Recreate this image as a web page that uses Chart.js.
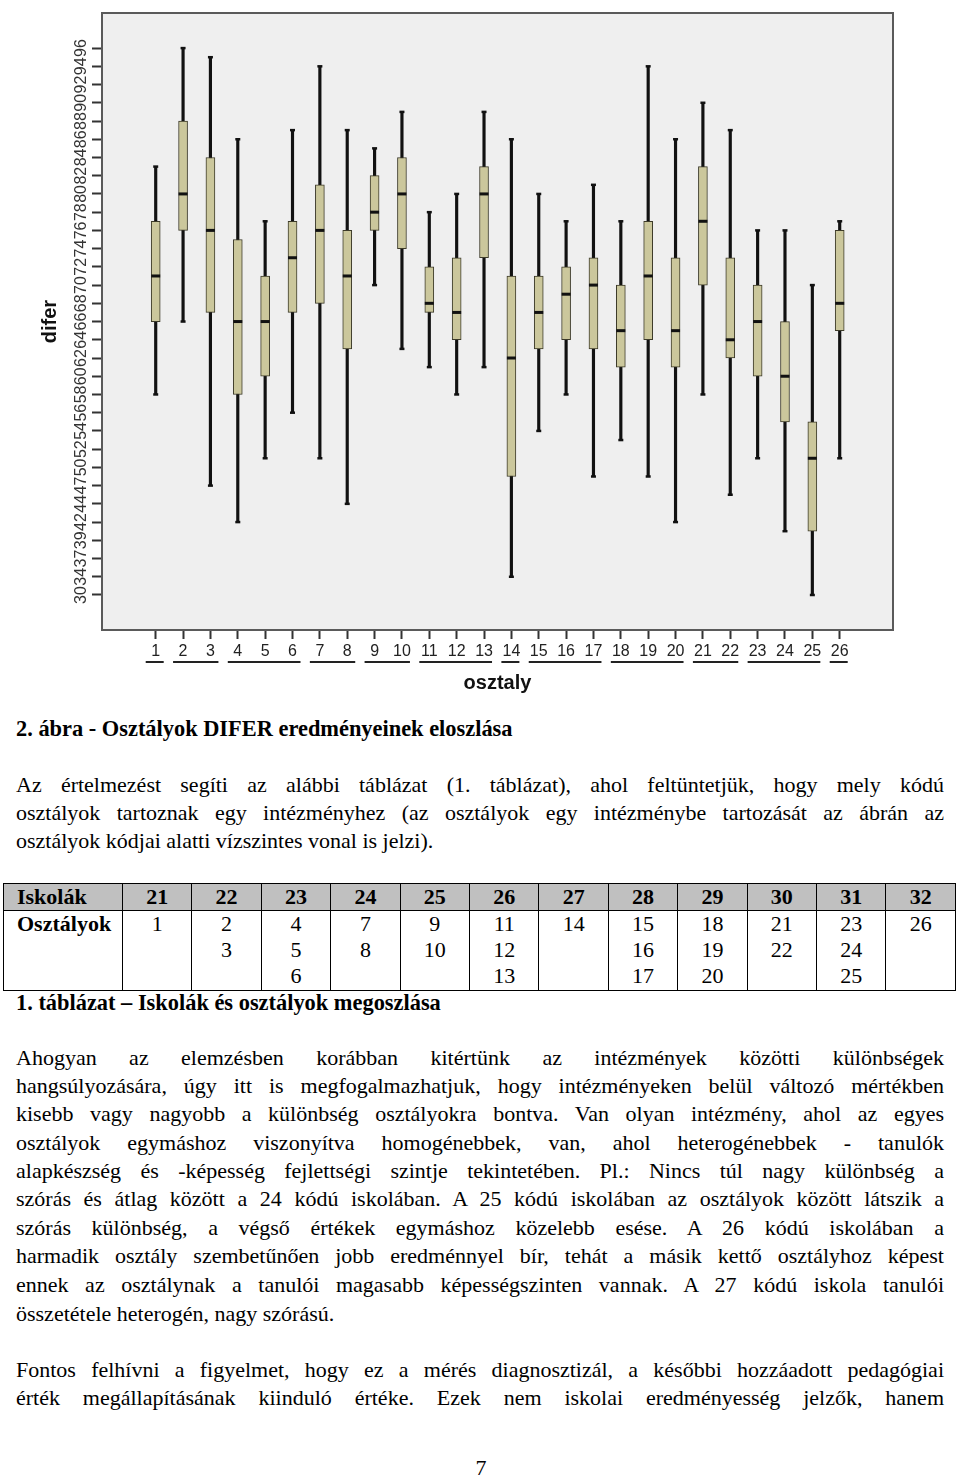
<!DOCTYPE html>
<html lang="hu">
<head>
<meta charset="utf-8">
<title>Osztályok DIFER eredményeinek eloszlása</title>
<script src="https://cdn.jsdelivr.net/npm/chart.js@4.4.1/dist/chart.umd.min.js"></script>
<style>
  html, body { margin: 0; padding: 0; background: #fff; }
  body { width: 960px; height: 1479px; position: relative; overflow: hidden;
         font-family: "Liberation Serif", "Times New Roman", serif; color: #000; }
  #chartBox { position: absolute; left: 0; top: 0; width: 960px; height: 700px; }
  .line { position: absolute; left: 16px; width: 928px; font-size: 22px; line-height: 28px; }
  .just { text-align: justify; text-align-last: justify; }
  .bold { font-weight: bold; font-size: 22.4px; }
  #schoolTable { position: absolute; left: 3px; top: 883px; width: 953px; border-collapse: collapse;
                 table-layout: fixed; font-size: 22px; }
  #schoolTable th, #schoolTable td { border: 1px solid #000; padding: 0; text-align: center;
                 vertical-align: top; line-height: 26px; }
  #schoolTable tr.head th { background: #c0c0c0; height: 26px; }
  #schoolTable tr.body td { height: 79px; }
  #schoolTable .first { text-align: left; padding-left: 13px; font-weight: bold; }
  #pageNum { position: absolute; left: 0; width: 962px; top: 1454px; text-align: center;
             font-size: 22px; line-height: 28px; }
</style>
</head>
<body>
<div id="chartBox"><canvas id="chart" width="960" height="700"></canvas></div>

<div class="line bold" style="top:715px">2. ábra - Osztályok DIFER eredményeinek eloszlása</div>

<div class="line just" style="top:771px">Az értelmezést segíti az alábbi táblázat (1. táblázat), ahol feltüntetjük, hogy mely kódú</div>
<div class="line just" style="top:799px">osztályok tartoznak egy intézményhez (az osztályok egy intézménybe tartozását az ábrán az</div>
<div class="line" style="top:827px">osztályok kódjai alatti vízszintes vonal is jelzi).</div>

<table id="schoolTable"></table>

<div class="line bold" style="top:989px">1. táblázat – Iskolák és osztályok megoszlása</div>

<div class="line just" style="top:1044px">Ahogyan az elemzésben korábban kitértünk az intézmények közötti különbségek</div>
<div class="line just" style="top:1072px">hangsúlyozására, úgy itt is megfogalmazhatjuk, hogy intézményeken belül változó mértékben</div>
<div class="line just" style="top:1100px">kisebb vagy nagyobb a különbség osztályokra bontva. Van olyan intézmény, ahol az egyes</div>
<div class="line just" style="top:1129px">osztályok egymáshoz viszonyítva homogénebbek, van, ahol heterogénebbek - tanulók</div>
<div class="line just" style="top:1157px">alapkészség és -képesség fejlettségi szintje tekintetében. Pl.: Nincs túl nagy különbség a</div>
<div class="line just" style="top:1185px">szórás és átlag között a 24 kódú iskolában. A 25 kódú iskolában az osztályok között látszik a</div>
<div class="line just" style="top:1214px">szórás különbség, a végső értékek egymáshoz közelebb esése. A 26 kódú iskolában a</div>
<div class="line just" style="top:1242px">harmadik osztály szembetűnően jobb eredménnyel bír, tehát a másik kettő osztályhoz képest</div>
<div class="line just" style="top:1271px">ennek az osztálynak a tanulói magasabb képességszinten vannak. A 27 kódú iskola tanulói</div>
<div class="line" style="top:1300px">összetétele heterogén, nagy szórású.</div>

<div class="line just" style="top:1356px">Fontos felhívni a figyelmet, hogy ez a mérés diagnosztizál, a későbbi hozzáadott pedagógiai</div>
<div class="line just" style="top:1384px">érték megállapításának kiinduló értéke. Ezek nem iskolai eredményesség jelzők, hanem</div>

<div id="pageNum">7</div>

<script>
// osztály codes (x categories)
const classes = [1, 2, 3, 4, 5, 6, 7, 8, 9, 10, 11, 12, 13, 14, 15, 16, 17, 18, 19, 20, 21, 22, 23, 24, 25, 26];

// the difer axis is ordinal: equally spaced ticks with these labels
const yTickLabels = [30, 34, 37, 39, 42, 44, 47, 50, 52, 54, 56, 58, 60, 62, 64, 66,
                     68, 70, 72, 74, 76, 78, 80, 82, 84, 86, 88, 90, 92, 94, 96];

// box plot values per class
const whiskerLow  = [58, 66, 47, 42, 51, 56, 51, 44, 70, 63, 61, 58, 61, 34, 54, 58, 48.5, 53, 48.5, 42, 58, 45.5, 51, 40.5, 30, 51];
const q1          = [66, 76, 67, 58, 60, 67, 68, 63, 76, 74, 67, 64, 73, 48.5, 63, 64, 63, 61, 64, 61, 70, 62, 60, 55, 40.5, 65];
const median      = [71, 80, 76, 66, 66, 73, 76, 71, 78, 80, 68, 67, 80, 62, 67, 69, 70, 65, 71, 65, 77, 64, 66, 60, 51, 68];
const q3          = [77, 88, 84, 75, 71, 77, 81, 76, 82, 84, 72, 73, 83, 71, 71, 72, 73, 70, 77, 73, 83, 73, 70, 66, 55, 76];
const whiskerHigh = [83, 96, 95, 86, 77, 87, 94, 87, 85, 89, 78, 80, 89, 86, 80, 77, 81, 77, 94, 86, 90, 87, 76, 76, 70, 77];

// schools (iskolák) and the classes belonging to them
const schools = [21, 22, 23, 24, 25, 26, 27, 28, 29, 30, 31, 32];
const schoolClasses = [[1], [2, 3], [4, 5, 6], [7, 8], [9, 10], [11, 12, 13], [14],
                       [15, 16, 17], [18, 19, 20], [21, 22], [23, 24, 25], [26]];

// value -> position on the ordinal axis
function toPos(v) {
  for (let i = 0; i < yTickLabels.length - 1; i++) {
    const a = yTickLabels[i], b = yTickLabels[i + 1];
    if (v <= b) return i + (v - a) / (b - a);
  }
  return yTickLabels.length - 1;
}

// table
const tbl = document.getElementById('schoolTable');
let html = '<colgroup><col style="width:119px">' + schools.map(() => '<col>').join('') + '</colgroup>';
html += '<tr class="head"><th class="first">Iskolák</th>' + schools.map(s => '<th>' + s + '</th>').join('') + '</tr>';
html += '<tr class="body"><td class="first">Osztályok</td>' +
        schoolClasses.map(g => '<td>' + g.join('<br>') + '</td>').join('') + '</tr>';
tbl.innerHTML = html;

const plotDeco = {
  id: 'plotDeco',
  beforeDraw(chart) {
    const { ctx, chartArea: a } = chart;
    ctx.save();
    ctx.fillStyle = '#ffffff';
    ctx.fillRect(0, 0, chart.width, chart.height);
    ctx.fillStyle = '#efefef';
    ctx.fillRect(a.left, a.top, a.right - a.left, a.bottom - a.top);
    ctx.restore();
  },
  afterDraw(chart) {
    const { ctx, chartArea: a, scales: { x, y } } = chart;
    ctx.save();
    ctx.strokeStyle = '#5a5a5a';
    ctx.lineWidth = 2;
    ctx.strokeRect(a.left, a.top, a.right - a.left, a.bottom - a.top);

    // rotated y tick labels
    ctx.fillStyle = '#333';
    ctx.font = '16px "Liberation Sans", Arial, sans-serif';
    ctx.textAlign = 'center';
    ctx.textBaseline = 'middle';
    yTickLabels.forEach((lab, i) => {
      ctx.save();
      ctx.translate(82, y.getPixelForValue(i));
      ctx.rotate(-Math.PI / 2);
      ctx.fillText(String(lab), 0, 0);
      ctx.restore();
    });

    // y title
    ctx.fillStyle = '#111';
    ctx.font = 'bold 20px "Liberation Sans", Arial, sans-serif';
    ctx.save();
    ctx.translate(50, (y.getPixelForValue(0) + y.getPixelForValue(30)) / 2);
    ctx.rotate(-Math.PI / 2);
    ctx.fillText('difer', 0, 0);
    ctx.restore();

    // school group underlines
    ctx.strokeStyle = '#222';
    ctx.lineWidth = 2;
    schoolClasses.forEach(g => {
      const x0 = x.getPixelForValue(g[0]) - 10;
      const x1 = x.getPixelForValue(g[g.length - 1]) + 8;
      ctx.beginPath();
      ctx.moveTo(x0, 662);
      ctx.lineTo(x1, 662);
      ctx.stroke();
    });

    // x title
    ctx.fillText('osztaly', (a.left + a.right) / 2, 683);
    ctx.restore();
  }
};

const ctx = document.getElementById('chart').getContext('2d');

const chart = new Chart(ctx, {
  type: 'bar',
  data: {
    datasets: [
      {
        label: 'whisker',
        data: classes.map((c, i) => ({ x: c, y: [toPos(whiskerLow[i]), toPos(whiskerHigh[i])] })),
        backgroundColor: '#111',
        barThickness: 2.5,
        grouped: false,
        order: 4
      },
      {
        label: 'box',
        data: classes.map((c, i) => ({ x: c, y: [toPos(q1[i]), toPos(q3[i])] })),
        backgroundColor: '#cbc79c',
        borderColor: '#3c3a29',
        borderWidth: 1,
        borderSkipped: false,
        barThickness: 9,
        grouped: false,
        order: 3
      },
      {
        type: 'scatter',
        label: 'caps',
        data: classes.map((c, i) => ({ x: c, y: toPos(whiskerLow[i]) }))
              .concat(classes.map((c, i) => ({ x: c, y: toPos(whiskerHigh[i]) }))),
        pointStyle: 'line',
        radius: 2.5,
        borderWidth: 2.5,
        borderColor: '#111',
        order: 2
      },
      {
        type: 'scatter',
        label: 'median',
        data: classes.map((c, i) => ({ x: c, y: toPos(median[i]) })),
        pointStyle: 'line',
        radius: 4.5,
        borderWidth: 3,
        borderColor: '#111',
        order: 1
      }
    ]
  },
  options: {
    responsive: false,
    animation: false,
    layout: { padding: { top: 13, right: 67, left: 0, bottom: 0 } },
    plugins: { legend: { display: false }, tooltip: { enabled: false } },
    scales: {
      x: {
        type: 'linear',
        min: -0.963,
        max: 27.948,
        offset: false,
        afterBuildTicks: s => { s.ticks = classes.map(v => ({ value: v })); },
        afterFit: s => { s.height = 70; },
        grid: { drawOnChartArea: false, drawTicks: true, tickLength: 9, tickWidth: 2, tickColor: '#333', offset: false },
        border: { display: false },
        ticks: {
          font: { family: '"Liberation Sans", Arial, sans-serif', size: 16 },
          color: '#222',
          padding: 3,
          maxRotation: 0,
          autoSkip: false,
          callback: v => String(v)
        }
      },
      y: {
        type: 'linear',
        min: -1.92,
        max: 31.925,
        afterBuildTicks: s => { s.ticks = yTickLabels.map((_, i) => ({ value: i })); },
        afterFit: s => { s.width = 102; },
        grid: { drawOnChartArea: false, drawTicks: true, tickLength: 10, tickWidth: 2, tickColor: '#333' },
        border: { display: false },
        ticks: { display: false }
      }
    }
  },
  plugins: [plotDeco]
});
</script>
</body>
</html>
